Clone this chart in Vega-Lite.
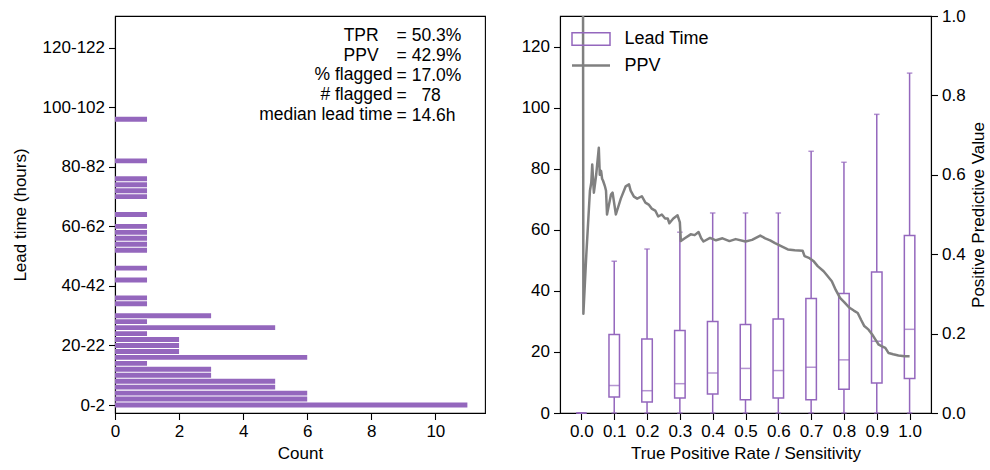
{
  "$schema": "https://vega.github.io/schema/vega-lite/v6.json",
  "padding": {"left": 10, "top": 6, "right": 2, "bottom": 5},
  "background": "white",
  "config": {
    "font": "Liberation Sans",
    "view": {"stroke": "black", "strokeWidth": 1.1},
    "axis": {
      "labelFont": "Liberation Sans", "labelFontSize": 17, "labelColor": "black",
      "titleFont": "Liberation Sans", "titleFontSize": 17, "titleFontWeight": "normal", "titleColor": "black",
      "domainColor": "black", "domainWidth": 1.1, "tickColor": "black", "tickSize": 6.5, "tickWidth": 1.1,
      "grid": false, "labelPadding": 4, "zindex": 1, "labelFlush": false, "labelOverlap": false
    },
    "legend": {"labelFont": "Liberation Sans", "labelFontSize": 18, "labelColor": "black"}
  },
  "bounds": "flush",
  "spacing": 75,
  "resolve": {"legend": {"stroke": "independent"}},
  "hconcat": [
    {
      "width": 370,
      "height": 397,
      "layer": [
        {
          "data": {"values": [
            {"bin": "0-2", "center": 1, "count": 11},
            {"bin": "2-4", "center": 3, "count": 6},
            {"bin": "4-6", "center": 5, "count": 6},
            {"bin": "6-8", "center": 7, "count": 5},
            {"bin": "8-10", "center": 9, "count": 5},
            {"bin": "10-12", "center": 11, "count": 3},
            {"bin": "12-14", "center": 13, "count": 3},
            {"bin": "14-16", "center": 15, "count": 1},
            {"bin": "16-18", "center": 17, "count": 6},
            {"bin": "18-20", "center": 19, "count": 2},
            {"bin": "20-22", "center": 21, "count": 2},
            {"bin": "22-24", "center": 23, "count": 2},
            {"bin": "24-26", "center": 25, "count": 1},
            {"bin": "26-28", "center": 27, "count": 5},
            {"bin": "28-30", "center": 29, "count": 1},
            {"bin": "30-32", "center": 31, "count": 3},
            {"bin": "34-36", "center": 35, "count": 1},
            {"bin": "36-38", "center": 37, "count": 1},
            {"bin": "42-44", "center": 43, "count": 1},
            {"bin": "46-48", "center": 47, "count": 1},
            {"bin": "52-54", "center": 53, "count": 1},
            {"bin": "54-56", "center": 55, "count": 1},
            {"bin": "56-58", "center": 57, "count": 1},
            {"bin": "58-60", "center": 59, "count": 1},
            {"bin": "60-62", "center": 61, "count": 1},
            {"bin": "64-66", "center": 65, "count": 1},
            {"bin": "70-72", "center": 71, "count": 1},
            {"bin": "72-74", "center": 73, "count": 1},
            {"bin": "74-76", "center": 75, "count": 1},
            {"bin": "76-78", "center": 77, "count": 1},
            {"bin": "82-84", "center": 83, "count": 1},
            {"bin": "96-98", "center": 97, "count": 1}
          ]},
          "mark": {"type": "bar", "orient": "horizontal", "size": 4.9, "color": "#9467bd"},
          "encoding": {
            "x": {"field": "count", "type": "quantitative",
                  "scale": {"domain": [0, 11.55], "nice": false, "zero": false},
                  "axis": {"values": [0, 2, 4, 6, 8, 10], "title": "Count", "titlePadding": 6}},
            "y": {"field": "center", "type": "quantitative",
                  "scale": {"domain": [0, 130], "nice": false, "zero": false},
                  "axis": {"values": [1, 21, 41, 61, 81, 101, 121],
                           "labelExpr": "(datum.value - 1) + '-' + (datum.value + 1)",
                           "title": "Lead time (hours)", "titlePadding": 13}}
          }
        },
        {
          "data": {"values": [{}]},
          "mark": {"type": "text", "align": "right", "baseline": "alphabetic", "fontSize": 17.5, "lineHeight": 20,
                   "font": "Liberation Sans", "color": "black",
                   "text": ["TPR", "PPV"]},
          "encoding": {
            "x": {"datum": 8.23, "type": "quantitative"},
            "y": {"datum": 123.35, "type": "quantitative"}
          }
        },
        {
          "data": {"values": [{}]},
          "mark": {"type": "text", "align": "right", "baseline": "alphabetic", "fontSize": 17.5, "lineHeight": 20,
                   "font": "Liberation Sans", "color": "black",
                   "text": ["% flagged", "# flagged", "median lead time"]},
          "encoding": {
            "x": {"datum": 8.66, "type": "quantitative"},
            "y": {"datum": 110.25, "type": "quantitative"}
          }
        },
        {
          "data": {"values": [{}]},
          "mark": {"type": "text", "align": "left", "baseline": "alphabetic", "fontSize": 17.5, "lineHeight": 20,
                   "font": "Liberation Sans", "color": "black",
                   "text": ["= 50.3%", "= 42.9%", "= 17.0%", "=\u00a0\u00a0\u00a078", "= 14.6h"]},
          "encoding": {
            "x": {"datum": 8.79, "type": "quantitative"},
            "y": {"datum": 123.35, "type": "quantitative"}
          }
        }
      ]
    },
    {
      "width": 371,
      "height": 397,
      "encoding": {
        "x": {"field": "tpr", "type": "quantitative",
              "scale": {"domain": [-0.05, 1.05], "nice": false, "zero": false},
              "axis": {"values": [0, 0.1, 0.2, 0.3, 0.4, 0.5, 0.6, 0.7, 0.8, 0.9, 1.0], "format": ".1f",
                       "labelOverlap": false, "labelSeparation": 0,
                       "title": "True Positive Rate / Sensitivity", "titlePadding": 6}}
      },
      "layer": [
        {
          "data": {"values": [
            {"tpr": 0.0, "lower": 0, "q1": 0, "median": 0, "q3": 0, "upper": 0},
            {"tpr": 0.1, "lower": 0, "q1": 5.2, "median": 9.0, "q3": 25.7, "upper": 49.7},
            {"tpr": 0.2, "lower": 0, "q1": 3.6, "median": 7.3, "q3": 24.2, "upper": 53.7},
            {"tpr": 0.3, "lower": 0, "q1": 4.9, "median": 9.6, "q3": 27.0, "upper": 59.2},
            {"tpr": 0.4, "lower": 0, "q1": 6.2, "median": 13.1, "q3": 30.0, "upper": 65.5},
            {"tpr": 0.5, "lower": 0, "q1": 4.3, "median": 14.6, "q3": 29.0, "upper": 65.5},
            {"tpr": 0.6, "lower": 0, "q1": 4.9, "median": 13.9, "q3": 30.8, "upper": 65.5},
            {"tpr": 0.7, "lower": 0, "q1": 4.3, "median": 15.0, "q3": 37.5, "upper": 85.7},
            {"tpr": 0.8, "lower": 0, "q1": 7.8, "median": 17.4, "q3": 39.1, "upper": 82.1},
            {"tpr": 0.9, "lower": 0, "q1": 9.8, "median": 23.5, "q3": 46.2, "upper": 97.8},
            {"tpr": 1.0, "lower": 0, "q1": 11.3, "median": 27.4, "q3": 58.1, "upper": 111.3}
          ]},
          "layer": [
            {
              "mark": {"type": "rule", "color": "#9467bd", "strokeWidth": 1.5},
              "encoding": {
                "y": {"field": "lower", "type": "quantitative",
                      "scale": {"domain": [0, 130], "nice": false, "zero": false},
                      "axis": {"values": [0, 20, 40, 60, 80, 100, 120], "title": null}},
                "y2": {"field": "q1"}
              }
            },
            {
              "mark": {"type": "rule", "color": "#9467bd", "strokeWidth": 1.5},
              "encoding": {
                "y": {"field": "q3", "type": "quantitative"},
                "y2": {"field": "upper"}
              }
            },
            {
              "mark": {"type": "bar", "size": 10.5, "fill": "transparent", "stroke": "#9467bd", "strokeWidth": 1.5},
              "encoding": {
                "y": {"field": "q1", "type": "quantitative"},
                "y2": {"field": "q3"}
              }
            },
            {
              "mark": {"type": "tick", "orient": "horizontal", "size": 10.5, "thickness": 1.5, "color": "#9467bd"},
              "encoding": {"y": {"field": "median", "type": "quantitative"}}
            },
            {
              "mark": {"type": "tick", "orient": "horizontal", "size": 5.5, "thickness": 1.5, "color": "#9467bd"},
              "encoding": {"y": {"field": "upper", "type": "quantitative"}}
            },
            {
              "mark": {"type": "tick", "orient": "horizontal", "size": 5.5, "thickness": 1.5, "color": "#9467bd"},
              "encoding": {"y": {"field": "lower", "type": "quantitative"}}
            }
          ]
        },
        {
          "data": {"values": [
            {"tpr": 0.005, "ppv": 1.0}, {"tpr": 0.006, "ppv": 0.25}, {"tpr": 0.015, "ppv": 0.4},
            {"tpr": 0.026, "ppv": 0.56}, {"tpr": 0.03, "ppv": 0.58}, {"tpr": 0.033, "ppv": 0.626},
            {"tpr": 0.038, "ppv": 0.555}, {"tpr": 0.045, "ppv": 0.6}, {"tpr": 0.053, "ppv": 0.668},
            {"tpr": 0.056, "ppv": 0.6}, {"tpr": 0.06, "ppv": 0.61}, {"tpr": 0.063, "ppv": 0.59},
            {"tpr": 0.066, "ppv": 0.585}, {"tpr": 0.072, "ppv": 0.57}, {"tpr": 0.075, "ppv": 0.56},
            {"tpr": 0.078, "ppv": 0.5}, {"tpr": 0.09, "ppv": 0.55}, {"tpr": 0.095, "ppv": 0.555},
            {"tpr": 0.105, "ppv": 0.5}, {"tpr": 0.12, "ppv": 0.54}, {"tpr": 0.135, "ppv": 0.571},
            {"tpr": 0.145, "ppv": 0.576}, {"tpr": 0.15, "ppv": 0.56}, {"tpr": 0.16, "ppv": 0.545},
            {"tpr": 0.17, "ppv": 0.54}, {"tpr": 0.184, "ppv": 0.546}, {"tpr": 0.195, "ppv": 0.53},
            {"tpr": 0.205, "ppv": 0.525}, {"tpr": 0.214, "ppv": 0.515}, {"tpr": 0.225, "ppv": 0.51},
            {"tpr": 0.234, "ppv": 0.495}, {"tpr": 0.245, "ppv": 0.5}, {"tpr": 0.255, "ppv": 0.49},
            {"tpr": 0.263, "ppv": 0.49}, {"tpr": 0.268, "ppv": 0.478}, {"tpr": 0.28, "ppv": 0.49},
            {"tpr": 0.293, "ppv": 0.498}, {"tpr": 0.3, "ppv": 0.48}, {"tpr": 0.303, "ppv": 0.433},
            {"tpr": 0.315, "ppv": 0.44}, {"tpr": 0.333, "ppv": 0.45}, {"tpr": 0.345, "ppv": 0.448},
            {"tpr": 0.357, "ppv": 0.456}, {"tpr": 0.365, "ppv": 0.44}, {"tpr": 0.372, "ppv": 0.432},
            {"tpr": 0.392, "ppv": 0.441}, {"tpr": 0.41, "ppv": 0.435}, {"tpr": 0.43, "ppv": 0.44},
            {"tpr": 0.451, "ppv": 0.433}, {"tpr": 0.47, "ppv": 0.438}, {"tpr": 0.5, "ppv": 0.432},
            {"tpr": 0.52, "ppv": 0.436}, {"tpr": 0.545, "ppv": 0.447}, {"tpr": 0.56, "ppv": 0.44},
            {"tpr": 0.575, "ppv": 0.435}, {"tpr": 0.59, "ppv": 0.428}, {"tpr": 0.61, "ppv": 0.42},
            {"tpr": 0.629, "ppv": 0.412}, {"tpr": 0.65, "ppv": 0.41}, {"tpr": 0.674, "ppv": 0.409},
            {"tpr": 0.68, "ppv": 0.395}, {"tpr": 0.695, "ppv": 0.39}, {"tpr": 0.708, "ppv": 0.382},
            {"tpr": 0.72, "ppv": 0.37}, {"tpr": 0.738, "ppv": 0.357}, {"tpr": 0.75, "ppv": 0.345},
            {"tpr": 0.763, "ppv": 0.332}, {"tpr": 0.775, "ppv": 0.31}, {"tpr": 0.788, "ppv": 0.29},
            {"tpr": 0.8, "ppv": 0.28}, {"tpr": 0.817, "ppv": 0.265}, {"tpr": 0.83, "ppv": 0.258},
            {"tpr": 0.842, "ppv": 0.252}, {"tpr": 0.852, "ppv": 0.235}, {"tpr": 0.862, "ppv": 0.219},
            {"tpr": 0.875, "ppv": 0.21}, {"tpr": 0.886, "ppv": 0.198}, {"tpr": 0.896, "ppv": 0.185},
            {"tpr": 0.906, "ppv": 0.172}, {"tpr": 0.916, "ppv": 0.168}, {"tpr": 0.926, "ppv": 0.164},
            {"tpr": 0.936, "ppv": 0.151}, {"tpr": 0.95, "ppv": 0.148}, {"tpr": 0.966, "ppv": 0.145},
            {"tpr": 0.985, "ppv": 0.143}, {"tpr": 1.0, "ppv": 0.143}
          ]},
          "mark": {"type": "line", "strokeWidth": 2.5, "strokeJoin": "round"},
          "encoding": {
            "y": {"field": "ppv", "type": "quantitative",
                  "scale": {"domain": [0, 1], "nice": false, "zero": false},
                  "axis": {"orient": "right", "values": [0, 0.2, 0.4, 0.6, 0.8, 1.0], "format": ".1f",
                           "title": "Positive Predictive Value", "titleAngle": 270, "titleBaseline": "top",
                           "titlePadding": 5}},
            "stroke": {"datum": "PPV", "type": "nominal",
                       "scale": {"domain": ["Lead Time", "PPV"], "range": ["#9467bd", "#808080"]},
                       "legend": {
                         "title": null, "orient": "top-left", "offset": 14, "padding": 0,
                         "symbolSize": 1444, "symbolOffset": 8, "labelOffset": 24.5, "rowPadding": 7.5, "labelFontSize": 18,
                         "encode": {"symbols": {"update": {
                           "shape": {"signal": "datum.value === 'PPV' ? 'M-1,0H1' : 'M-1,-0.33H1V0.33H-1Z'"},
                           "strokeWidth": {"signal": "datum.value === 'PPV' ? 2.5 : 1.5"},
                           "fill": {"value": "transparent"}
                         }}}
                       }}
          }
        }
      ],
      "resolve": {"scale": {"y": "independent"}}
    }
  ]
}
